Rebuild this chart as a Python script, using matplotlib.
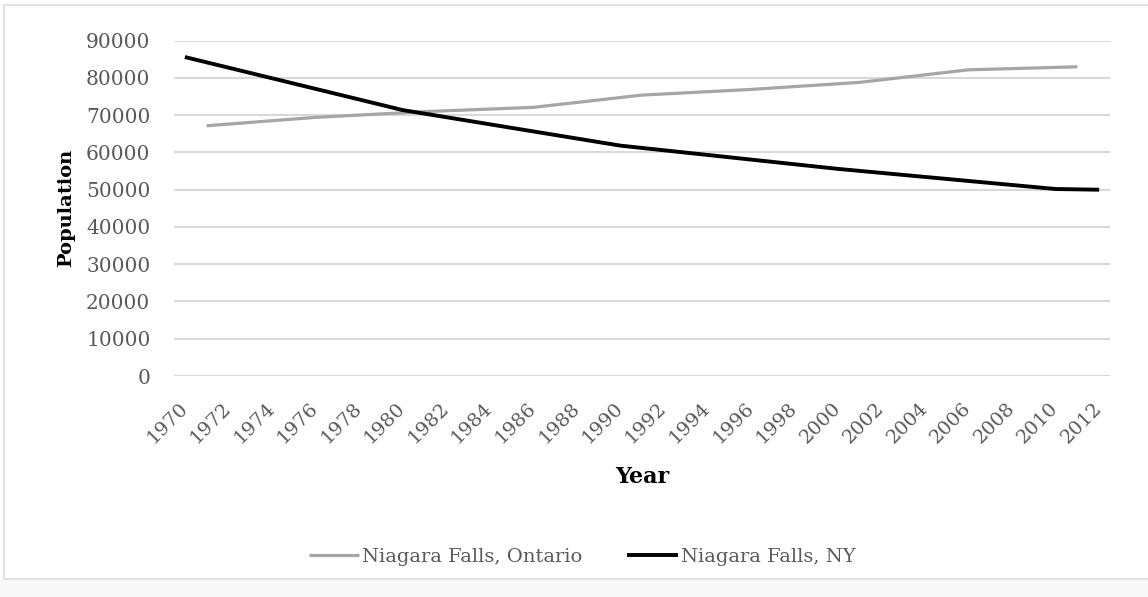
import matplotlib
matplotlib.use("Agg")
import matplotlib.pyplot as plt
from matplotlib.patches import Rectangle
from matplotlib.transforms import ScaledTranslation

# census points (linear between them, like the Excel chart)
ontario_years = [1971, 1976, 1981, 1986, 1991, 1996, 2001, 2006, 2011]
ontario_pop = [67163, 69423, 70960, 72107, 75399, 76917, 78815, 82184, 82997]

ny_years = [1970, 1980, 1990, 2000, 2010, 2012]
ny_pop = [85615, 71384, 61840, 55593, 50193, 50000]

year_ticks = list(range(1970, 2013, 2))
pop_ticks = list(range(0, 90001, 10000))

TICK_GREY = "#595959"
GRID_GREY = "#d9d9d9"
FONT = "DejaVu Serif"
W, H = 1148, 597

fig = plt.figure(figsize=(W / 100, H / 100), dpi=100)
fig.patch.set_facecolor("white")
# faint frame of the chart object (cropped on the right)
fig.patches.append(Rectangle((0, 0), 1, 18 / H, transform=fig.transFigure,
                             facecolor="#f8f8f8", edgecolor="none", zorder=-11))
fig.patches.append(Rectangle((4 / W, 18 / H), 1.01, (H - 23) / H,
                             transform=fig.transFigure, facecolor="white",
                             edgecolor="#e3e3e3", linewidth=1.6, zorder=-10))

ax = fig.add_axes([174 / W, 1 - 376 / H, (1110 - 174) / W, (376 - 40.7) / H])
ax.set_facecolor("none")

ax.plot(ontario_years, ontario_pop, color="#a6a6a6", lw=2.3,
        solid_capstyle="butt", label="Niagara Falls, Ontario", zorder=3)
ax.plot(ny_years, ny_pop, color="#000000", lw=2.8,
        solid_capstyle="butt", label="Niagara Falls, NY", zorder=4)

ax.set_xlim(1969.5, 2012.5)
ax.set_ylim(0, 90000)
ax.set_yticks(pop_ticks)
ax.set_yticklabels([str(v) for v in pop_ticks], fontsize=14.5, family=FONT, color=TICK_GREY)
ax.set_xticks(year_ticks)
ax.set_xticklabels([str(v) for v in year_ticks], fontsize=14, family=FONT,
                   color=TICK_GREY, rotation=45, ha="right", va="center",
                   rotation_mode="anchor")
for lab in ax.get_xticklabels():
    lab.set_transform(lab.get_transform() + ScaledTranslation(6 / 100, 0, fig.dpi_scale_trans))
ax.tick_params(axis="both", length=0)
ax.tick_params(axis="y", pad=17)
ax.tick_params(axis="x", pad=21)

ax.grid(axis="y", color=GRID_GREY, lw=1.5)
ax.set_axisbelow(True)
for s in ax.spines.values():
    s.set_visible(False)

ax.set_ylabel("Population", fontsize=14, family=FONT, fontweight="bold")
ax.yaxis.set_label_coords(66 / W, 1 - 208 / H, transform=fig.transFigure)
ax.set_xlabel("Year", fontsize=16, family=FONT, fontweight="bold")
ax.xaxis.set_label_coords(642 / W, 1 - 477 / H, transform=fig.transFigure)
ax.xaxis.label.set_va("center")
ax.yaxis.label.set_va("center")

leg = fig.legend(loc="center", bbox_to_anchor=(582 / W, 1 - 557 / H), ncol=2,
                 frameon=False, handlelength=2.6, handletextpad=0.15, columnspacing=2.3,
                 prop={"family": FONT, "size": 14})
for t in leg.get_texts():
    t.set_color(TICK_GREY)

fig.savefig("out.png", dpi=100, facecolor="white")
